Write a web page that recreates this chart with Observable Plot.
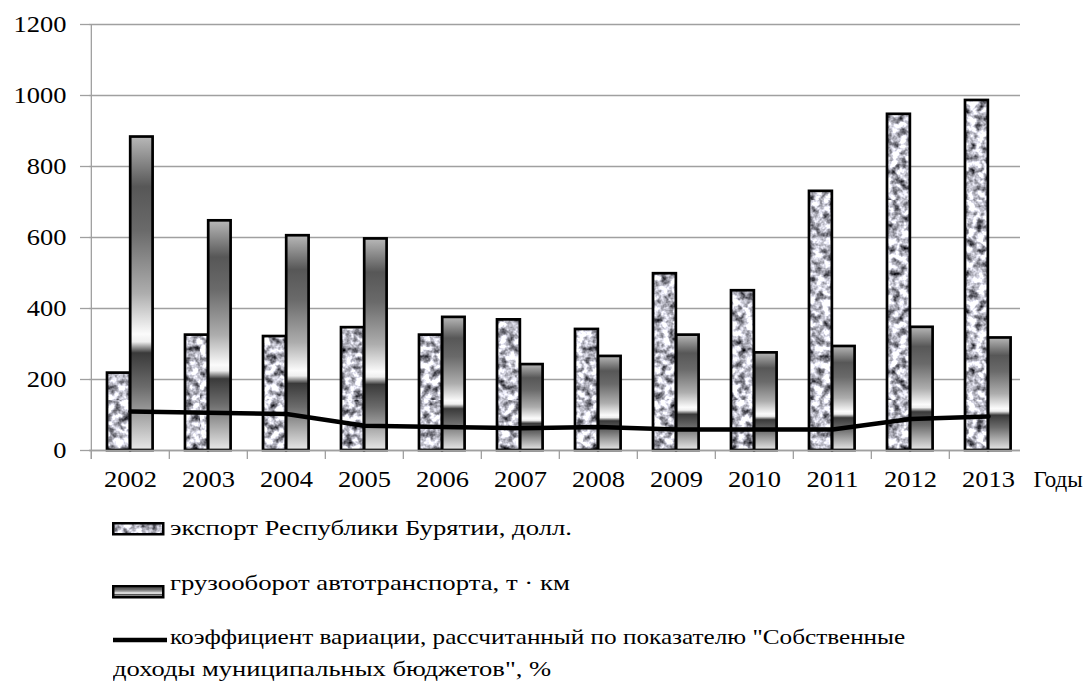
<!DOCTYPE html>
<html><head><meta charset="utf-8">
<script src="https://cdn.jsdelivr.net/npm/d3@7"></script>
<script src="https://cdn.jsdelivr.net/npm/@observablehq/plot@0.6"></script>
<style>
body{margin:0;background:#fff;}
#wrap{width:1088px;position:relative;font-family:"Liberation Serif","Times New Roman",serif;color:#000;}
#chart svg{display:block;}
#legend{position:relative;width:1088px;height:183px;}
.lt{position:absolute;font-size:21px;white-space:nowrap;transform-origin:0 0;line-height:1;}
.sw{position:absolute;}
.sw svg{display:block;}
</style></head><body>
<div id="wrap"><div id="chart"></div><div id="legend"></div></div>
<script>
// ---- data ----
const years = ["2002","2003","2004","2005","2006","2007","2008","2009","2010","2011","2012","2013"];
const exportVals  = [218, 325, 321, 346, 325, 368, 341, 498, 450, 730, 947, 986];
const freightVals = [883, 647, 605, 596, 375, 242, 265, 325, 275, 293, 347, 317];
const coefVals    = [110, 106, 103,  70,  66,  63,  66,  59,  59,  59,  89,  96];
const yTicks = [0, 200, 400, 600, 800, 1000, 1200];
const seriesNames = [
  "экспорт Республики Бурятии, долл.",
  "грузооборот автотранспорта,  т · км",
  "коэффициент вариации, рассчитанный по показателю \"Собственные",
  "доходы муниципальных бюджетов\", %"
];
const axisUnit = "Годы";

const data = years.map((y, i) => ({year: y, exp: exportVals[i], fr: freightVals[i], coef: coefVals[i]}));

const xRange = [89, 1029];
const bw = (xRange[1] - xRange[0]) / years.length;
const grid = "#a0a0a0";

const defsMarkup = `
<filter id="fNoise" x="0" y="0" width="1" height="1" filterUnits="objectBoundingBox" color-interpolation-filters="sRGB">
  <feTurbulence type="fractalNoise" baseFrequency="0.13" numOctaves="3" seed="7"/>
  <feColorMatrix type="matrix" values="1.9 0 0 0 -0.21  1.9 0 0 0 -0.21  1.95 0 0 0 -0.19  0 0 0 0 1"/>
</filter>
<pattern id="pGranite" patternUnits="userSpaceOnUse" width="200" height="200">
  <rect width="200" height="200" fill="#c8c8c8" filter="url(#fNoise)"/>
</pattern>
<linearGradient id="gFreight" x1="0" y1="0" x2="0" y2="1">
  <stop offset="0" stop-color="#b8b8b8"/>
  <stop offset="0.16" stop-color="#575757"/>
  <stop offset="0.3" stop-color="#6a6a6a"/>
  <stop offset="0.5" stop-color="#adadad"/>
  <stop offset="0.63" stop-color="#fbfbfb"/>
  <stop offset="0.655" stop-color="#eeeeee"/>
  <stop offset="0.69" stop-color="#3a3a3a"/>
  <stop offset="0.8" stop-color="#6c6c6c"/>
  <stop offset="1" stop-color="#e8e8e8"/>
</linearGradient>`;

const chart = Plot.plot({
  width: 1088, height: 500,
  marginLeft: 89, marginRight: 68, marginTop: 24, marginBottom: 50,
  style: {fontFamily: "'Liberation Serif','Times New Roman',serif", fontSize: "23px", color: "black", background: "white", overflow: "visible"},
  x: {domain: years, range: xRange, padding: 0, label: null},
  y: {domain: [0, 1200], range: [450, 24], label: null},
  marks: [
    Plot.gridY({ticks: yTicks, stroke: grid, strokeOpacity: 1, strokeWidth: 1.3}),
    Plot.barY(data, {x: "year", y: "exp", fill: "url(#pGranite)", stroke: "black", strokeWidth: 2.7, insetLeft: 16, insetRight: bw - 16 - 23.2}),
    Plot.barY(data, {x: "year", y: "fr", fill: "url(#gFreight)", stroke: "black", strokeWidth: 2.7, insetLeft: 16 + 23.2, insetRight: 16.4}),
    Plot.ruleY([0], {stroke: grid, strokeWidth: 1.3}),
    Plot.ruleX(years, {x: d => d, y1: 0, y2: 0, insetBottom: -9, dx: -bw / 2, stroke: grid, strokeWidth: 1.3}),
    Plot.ruleX([years[0]], {dx: -bw / 2, insetBottom: -9, stroke: grid, strokeWidth: 1.3}),
    Plot.lineY(data, {x: "year", y: "coef", stroke: "black", strokeWidth: 4.5}),
    Plot.axisY({ticks: yTicks, tickFormat: d3.format("d"), tickSize: 9, tickPadding: 14, stroke: grid, strokeWidth: 1.3, fill: "black", label: null}),
    Plot.axisX({tickSize: 0, tickPadding: 20, fill: "black", label: null}),
    Plot.text([axisUnit], {frameAnchor: "bottom-right", textAnchor: "start", lineAnchor: "middle", dx: 13, dy: 29, fill: "black", fontSize: 23})
  ]
});

const g = document.createElementNS("http://www.w3.org/2000/svg", "g");
g.innerHTML = defsMarkup;
const defs = document.createElementNS("http://www.w3.org/2000/svg", "defs");
while (g.firstChild) defs.appendChild(g.firstChild);
chart.insertBefore(defs, chart.firstChild);
document.getElementById("chart").appendChild(chart);

// widen the tick-label glyphs like in the reference
chart.querySelectorAll('g[aria-label="x-axis tick label"] text, g[aria-label="y-axis tick label"] text').forEach(t => {
  const len = t.getComputedTextLength();
  if (len > 0) {
    t.setAttribute("textLength", (len * 1.15).toFixed(2));
    t.setAttribute("lengthAdjust", "spacingAndGlyphs");
  }
});

// ---- legend ----
const leg = document.getElementById("legend");
function sw(html, left, top, w, h) {
  const d = document.createElement("div");
  d.className = "sw"; d.style.left = left + "px"; d.style.top = top + "px";
  d.innerHTML = `<svg width="${w}" height="${h}">${html}</svg>`;
  leg.appendChild(d);
}
sw(`<rect x="1.25" y="1.25" width="50" height="11" fill="url(#pGranite)" stroke="black" stroke-width="2.5"/>`, 112, 22, 53, 14);
sw(`<rect x="1.25" y="1.25" width="50" height="11" fill="url(#gFreight)" stroke="black" stroke-width="2.5"/>`, 112, 85, 53, 14);
sw(`<line x1="0" x2="54" y1="3" y2="3" stroke="black" stroke-width="4.5"/>`, 113, 137, 56, 6);

const targets = [
  {left: 170, base: 37, w: 402},
  {left: 170, base: 92, w: 400},
  {left: 170, base: 146, w: 735},
  {left: 113, base: 178, w: 438}
];
seriesNames.forEach((txt, i) => {
  const s = document.createElement("span");
  s.className = "lt"; s.textContent = txt;
  leg.appendChild(s);
  const t = targets[i];
  const nat = s.getBoundingClientRect().width;
  s.style.left = t.left + "px";
  s.style.top = (t.base - 21 * 0.891) + "px";
  s.style.transform = `scaleX(${(t.w / nat).toFixed(3)})`;
});
</script>
</body></html>
